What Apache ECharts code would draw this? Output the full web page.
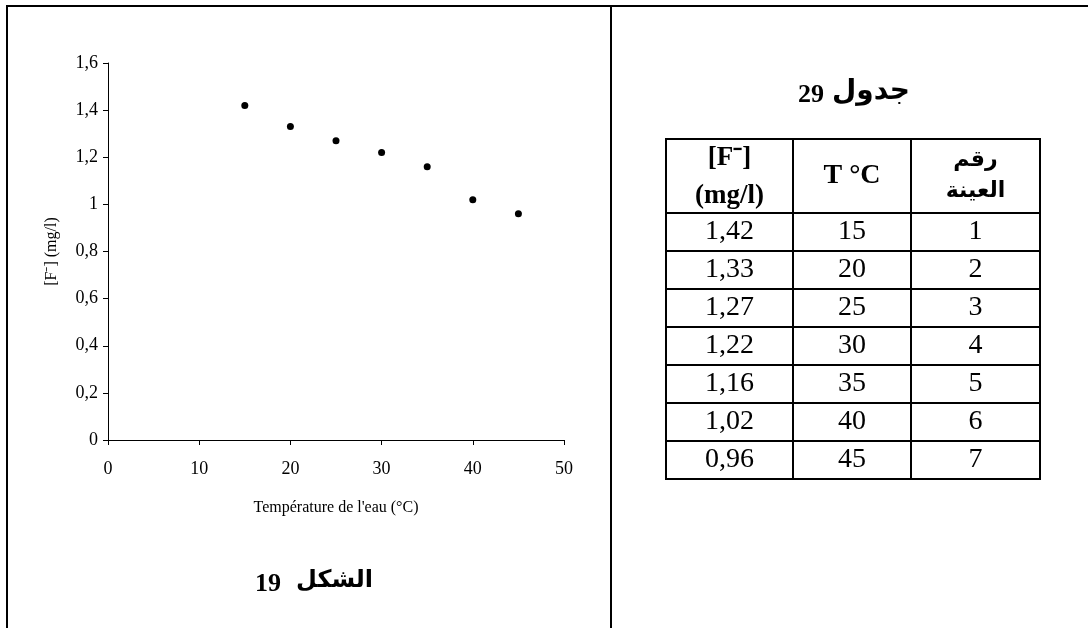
<!DOCTYPE html>
<html><head><meta charset="utf-8">
<script src="https://cdn.jsdelivr.net/npm/echarts@6/dist/echarts.min.js"></script>
<style>html,body{margin:0;padding:0;background:#fff}#c{width:1088px;height:628px}</style>
</head><body><div id="c"></div>
<script>
// ---- data ----
const temperatures = [15, 20, 25, 30, 35, 40, 45];
const fluoride = [1.42, 1.33, 1.27, 1.22, 1.16, 1.02, 0.96];
const sampleNumbers = [1, 2, 3, 4, 5, 6, 7];
const xAxisTitle = "Température de l'eau (°C)";
const yAxisTitle = "[F⁻] (mg/l)";
const figureNumber = '19';
const figureWord = 'الشكل';
const tableNumber = '29';
const tableWord = 'جدول';
const tableHeaders = ['[F⁻]\n(mg/l)', 'T °C', 'رقم\nالعينة'];

// ---- helpers ----
const serif = '"Liberation Serif", "Times New Roman", serif';
const arab = '"DejaVu Sans", sans-serif';
const comma = v => String(v).replace('.', ',');

// ---- layout ----
const colX = [666, 793, 911, 1040];
const headTop = 139, headBottom = 213, rowH = 38;

const graphics = [];
const line = (x1, y1, x2, y2) => graphics.push({type: 'line', silent: true,
  shape: {x1, y1, x2, y2}, style: {stroke: '#000', lineWidth: 2}});
const text = (t, x, y, font, align, extra) => graphics.push({type: 'text', silent: true,
  style: Object.assign({text: t, x, y, font, fill: '#000', align: align || 'center', verticalAlign: 'middle'}, extra || {})});

// frame
line(6, 6, 1088, 6);
line(7, 5, 7, 628);
line(611, 5, 611, 628);

// table grid
const nRows = fluoride.length;
const tableBottom = headBottom + nRows * rowH;
line(colX[0], headTop, colX[3], headTop);
line(colX[0], headBottom, colX[3], headBottom);
for (let i = 1; i <= nRows; i++) line(colX[0], headBottom + i * rowH, colX[3], headBottom + i * rowH);
colX.forEach(x => line(x, headTop - 1, x, tableBottom + 1));

// headers
const cx = i => (colX[i] + colX[i + 1]) / 2;
const headMid = (headTop + headBottom) / 2;
text(tableHeaders[0], cx(0), headMid + 1, 'bold 27px ' + serif, 'center', {lineHeight: 38});
text(tableHeaders[1], cx(1), headMid, 'bold 28px ' + serif);
text(tableHeaders[2], cx(2), headMid, 'bold 22px ' + arab, 'center', {lineHeight: 31});

// body
for (let i = 0; i < nRows; i++) {
  const y = headBottom + i * rowH + rowH / 2;
  text(comma(fluoride[i].toFixed(2)), cx(0), y, '28px ' + serif);
  text(String(temperatures[i]), cx(1), y, '28px ' + serif);
  text(String(sampleNumbers[i]), cx(2), y, '28px ' + serif);
}

// titles
text(tableNumber, 824, 95, 'bold 26px ' + serif, 'right');
text(tableWord, 832, 92, 'bold 28px ' + arab, 'left');
text(figureNumber, 281, 584, 'bold 26px ' + serif, 'right');
text(figureWord, 296, 581, 'bold 24px ' + arab, 'left');

const chart = echarts.init(document.getElementById('c'), null, {renderer: 'canvas'});
chart.setOption({
  animation: false,
  backgroundColor: '#fff',
  grid: {left: 108, top: 63, width: 456, height: 377, containLabel: false},
  xAxis: {
    type: 'value', min: 0, max: 50, interval: 10,
    name: xAxisTitle, nameLocation: 'middle', nameGap: 60,
    nameTextStyle: {fontFamily: serif, fontSize: 16, color: '#000'},
    axisLine: {show: true, onZero: false, lineStyle: {color: '#000', width: 1}},
    axisTick: {show: true, length: 5, lineStyle: {color: '#000'}},
    axisLabel: {fontFamily: serif, fontSize: 18, color: '#000', margin: 20},
    splitLine: {show: false}
  },
  yAxis: {
    type: 'value', min: 0, max: 1.6, interval: 0.2,
    name: yAxisTitle, nameLocation: 'middle', nameGap: 48, nameRotate: 90,
    nameTextStyle: {fontFamily: serif, fontSize: 16, color: '#000'},
    axisLine: {show: true, onZero: false, lineStyle: {color: '#000', width: 1}},
    axisTick: {show: true, length: 5, lineStyle: {color: '#000'}},
    axisLabel: {fontFamily: serif, fontSize: 18, color: '#000', margin: 10,
      formatter: v => comma(Math.round(v * 10) / 10)},
    splitLine: {show: false}
  },
  series: [{
    type: 'scatter', symbol: 'circle', symbolSize: 7,
    itemStyle: {color: '#000', opacity: 1},
    data: temperatures.map((t, i) => [t, fluoride[i]])
  }],
  graphic: graphics
});
</script>
</body></html>
